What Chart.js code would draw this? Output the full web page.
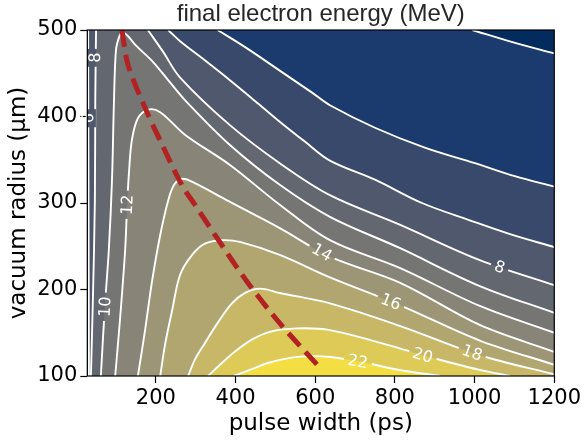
<!DOCTYPE html>
<html>
<head>
<meta charset="utf-8">
<script src="https://cdn.jsdelivr.net/npm/chart.js@4.4.0/dist/chart.umd.min.js"></script>
<style>
  html, body { margin: 0; padding: 0; background: #fff; }
</style>
</head>
<body>
<canvas id="myChart" width="584" height="440"></canvas>
<script>
// contour lines: [pulse width (ps), vacuum radius (µm)]
const lvl2 = [[994, 500], [1095, 486], [1200, 473]];
const lvl4 = [[355, 500], [428, 479], [511, 453], [594, 427], [637, 413], [750, 387], [875, 364], [1001, 346], [1101, 331], [1200, 319]];
const lvl6Left = [[32, 100], [31, 303], [30, 500]];
const lvl6Right = [[231, 500], [261, 487], [323, 465], [386, 442], [449, 418], [511, 394], [574, 371], [637, 349], [750, 327], [868, 300], [988, 280], [1089, 264], [1200, 249]];
const lvl8Left = [[37, 100], [42, 188], [47, 303], [48, 419], [50, 500]];
const lvl8Right = [[180, 500], [218, 475], [261, 445], [386, 390], [511, 346], [637, 309], [812, 275], [1013, 234], [1200, 205]];
const lvl10 = [[62, 100], [72, 180], [82, 246], [90, 327], [95, 419], [100, 477], [108, 492], [115, 497], [128, 494], [148, 483], [191, 464], [231, 442], [273, 419], [386, 367], [511, 321], [637, 284], [812, 248], [1013, 204], [1200, 173]];
const lvl12 = [[98, 100], [110, 165], [123, 246], [128, 298], [133, 338], [140, 373], [155, 398], [181, 408], [211, 405], [273, 379], [386, 344], [511, 298], [637, 257], [812, 225], [1013, 181], [1200, 150]];
const lvl14 = [[155, 100], [173, 153], [191, 211], [211, 263], [231, 303], [246, 321], [266, 328], [298, 323], [379, 303], [511, 271], [637, 238], [812, 208], [1013, 159], [1200, 128]];
const lvl16 = [[211, 100], [223, 136], [241, 176], [261, 217], [291, 240], [323, 253], [366, 257], [411, 255], [511, 240], [637, 214], [812, 182], [1013, 141], [1200, 113]];
const lvl18 = [[281, 100], [298, 119], [323, 138], [356, 162], [391, 184], [424, 196], [461, 201], [511, 196], [637, 184], [812, 158], [1013, 124], [1200, 102]];
const lvl20 = [[331, 100], [361, 113], [398, 128], [441, 142], [486, 151], [554, 155], [637, 153], [812, 132], [870, 124], [1013, 107], [1089, 100]];
const lvl22 = [[396, 100], [436, 107], [481, 115], [537, 121], [594, 123], [637, 122], [707, 117], [812, 107], [913, 100]];

// red dashed line (best pulse width for each radius)
const optimum = [[115, 500], [130, 460], [173, 410], [210, 373], [265, 321], [298, 298], [353, 260], [429, 209], [511, 161], [607, 112]];

const levels = [2, 4, 6, 8, 10, 12, 14, 16, 18, 20, 22];
const levelMax = 24;

// inline contour labels
const labelLevels = [6, 8, 10, 12, 14, 16, 18, 20, 22, 8];
const labelX = [30, 47, 72, 128, 617, 790, 994, 870, 707, 1063];
const labelY = [398, 468, 180, 298, 243, 186, 127, 124, 117, 226];

const xTicks = [200, 400, 600, 800, 1000, 1200];
const yTicks = [100, 200, 300, 400, 500];

// cividis-like colormap
const cmapT = [0, 0.042, 0.111, 0.222, 0.333, 0.444, 0.556, 0.667, 0.778, 0.889, 1];
const cmapRGB = [[0, 34, 78], [2, 43, 94], [22, 55, 110], [62, 76, 108], [90, 95, 110], [114, 115, 115], [139, 135, 120], [166, 157, 116], [196, 180, 105], [226, 205, 84], [254, 232, 56]];
function cmap(t) {
	t = Math.max(0, Math.min(1, t));
	var i = 0;
	while (i < cmapT.length - 2 && t > cmapT[i + 1]) i++;
	var f = (t - cmapT[i]) / (cmapT[i + 1] - cmapT[i]);
	var c = cmapRGB[i].map((v, k) => Math.round(v + (cmapRGB[i + 1][k] - v) * f));
	return 'rgb(' + c.join(',') + ')';
}
// band [L, L+2) coloured at its middle
function bandColor(lv) {
	return cmap((lv + 1) / levelMax);
}

function toXY(arr) {
	return arr.map(p => ({x: p[0], y: p[1]}));
}

function contour(arr, lv) {
	return {
		data: toXY(arr),
		level: lv,
		showLine: true,
		borderColor: '#ffffff',
		borderWidth: 1.9,
		pointRadius: 0,
		tension: 0.35,
		order: 1
	};
}

// position along the frame, clockwise from the top-left corner
function perim(p, a) {
	var W = a.right - a.left, H = a.bottom - a.top;
	var d = [Math.abs(p.y - a.top), Math.abs(p.x - a.right), Math.abs(p.y - a.bottom), Math.abs(p.x - a.left)];
	var e = d.indexOf(Math.min.apply(null, d));
	if (e === 0) return p.x - a.left;
	if (e === 1) return W + (p.y - a.top);
	if (e === 2) return W + H + (a.right - p.x);
	return 2 * W + H + (a.bottom - p.y);
}

function walk(ctx, a, from, to) {
	var W = a.right - a.left, H = a.bottom - a.top, P = 2 * (W + H);
	var s1 = perim(from, a), s2 = perim(to, a);
	var span = ((s2 - s1) % P + P) % P;
	var corners = [[0, a.left, a.top], [W, a.right, a.top], [W + H, a.right, a.bottom], [2 * W + H, a.left, a.bottom]];
	corners.map(c => [((c[0] - s1) % P + P) % P, c[1], c[2]])
		.filter(c => c[0] > 0 && c[0] < span)
		.sort((u, v) => u[0] - v[0])
		.forEach(c => ctx.lineTo(c[1], c[2]));
	ctx.lineTo(to.x, to.y);
}

function segDist(px, py, p, q) {
	var dx = q.x - p.x, dy = q.y - p.y;
	var t = ((px - p.x) * dx + (py - p.y) * dy) / (dx * dx + dy * dy || 1);
	t = Math.max(0, Math.min(1, t));
	return Math.hypot(p.x + t * dx - px, p.y + t * dy - py);
}

function labelGeom(chart, k) {
	var px = chart.scales.x.getPixelForValue(labelX[k]);
	var py = chart.scales.y.getPixelForValue(labelY[k]);
	var best = null;
	chart.data.datasets.forEach((d, i) => {
		if (d.level !== labelLevels[k]) return;
		var pts = chart.getDatasetMeta(i).data;
		for (var j = 0; j < pts.length - 1; j++) {
			var dist = segDist(px, py, pts[j], pts[j + 1]);
			if (!best || dist < best.dist) best = {dist: dist, dx: pts[j + 1].x - pts[j].x, dy: pts[j + 1].y - pts[j].y};
		}
	});
	var ang = Math.atan2(best.dy, best.dx);
	if (ang > Math.PI / 2) ang -= Math.PI;
	if (ang < -Math.PI / 2) ang += Math.PI;
	if (ang > 1.4) ang -= Math.PI;
	return {px: px, py: py, ang: ang};
}

const labelFont = '16px "DejaVu Sans"';

const contourPlugin = {
	id: 'contourBands',
	beforeDatasetsDraw(chart) {
		var ctx = chart.ctx, a = chart.chartArea;
		ctx.save();
		ctx.beginPath();
		ctx.rect(a.left, a.top, a.right - a.left, a.bottom - a.top);
		ctx.clip();
		ctx.fillStyle = bandColor(0);
		ctx.fillRect(a.left, a.top, a.right - a.left, a.bottom - a.top);
		// filled bands: region above each level, drawn from low to high
		levels.forEach(lv => {
			var first = null, prevEnd = null;
			ctx.beginPath();
			chart.data.datasets.forEach((d, i) => {
				if (d.level !== lv) return;
				var line = chart.getDatasetMeta(i).dataset;
				line.updateControlPoints(a, 'x');
				var pts = line.points;
				if (!first) {
					first = pts[0];
					ctx.moveTo(first.x, first.y);
				} else {
					walk(ctx, a, prevEnd, pts[0]);
				}
				line.pathSegment(ctx, line.segments[0], {move: false});
				prevEnd = pts[pts.length - 1];
			});
			walk(ctx, a, prevEnd, first);
			ctx.closePath();
			ctx.fillStyle = bandColor(lv);
			ctx.fill();
		});
		ctx.restore();

		// leave gaps in the lines where the labels go
		ctx.save();
		ctx.font = labelFont;
		ctx.beginPath();
		ctx.rect(a.left, a.top, a.right - a.left, a.bottom - a.top);
		labelLevels.forEach((lv, k) => {
			var g = labelGeom(chart, k);
			var w = ctx.measureText(String(lv)).width / 2 + 4, h = 8;
			var c = Math.cos(g.ang), s = Math.sin(g.ang);
			var box = [[-w, -h], [w, -h], [w, h], [-w, h]].map(p => [g.px + p[0] * c - p[1] * s, g.py + p[0] * s + p[1] * c]);
			ctx.moveTo(box[0][0], box[0][1]);
			box.slice(1).forEach(p => ctx.lineTo(p[0], p[1]));
			ctx.closePath();
		});
		ctx.clip('evenodd');
	},
	afterDatasetsDraw(chart) {
		var ctx = chart.ctx, a = chart.chartArea;
		ctx.restore();
		ctx.save();
		ctx.font = labelFont;
		ctx.fillStyle = '#ffffff';
		ctx.textAlign = 'center';
		ctx.textBaseline = 'middle';
		labelLevels.forEach((lv, k) => {
			var g = labelGeom(chart, k);
			ctx.save();
			ctx.translate(g.px, g.py);
			ctx.rotate(g.ang);
			ctx.fillText(String(lv), 0, 1);
			ctx.restore();
		});
		ctx.strokeStyle = '#000';
		ctx.lineWidth = 1.2;
		ctx.strokeRect(a.left, a.top, a.right - a.left, a.bottom - a.top);
		ctx.restore();
	},
	afterDraw(chart) {
		// title centred over the plot
		var ctx = chart.ctx, a = chart.chartArea;
		ctx.save();
		ctx.font = '24px "Liberation Sans"';
		ctx.fillStyle = '#262626';
		ctx.textAlign = 'center';
		ctx.textBaseline = 'alphabetic';
		ctx.fillText('final electron energy (MeV)', (a.left + a.right) / 2, 21);
		ctx.restore();
	}
};

var datasets = [{
	data: toXY(optimum),
	showLine: true,
	borderColor: '#b22222',
	borderWidth: 5,
	borderDash: [17, 8],
	pointRadius: 0,
	tension: 0.3,
	order: 0
}];
datasets.push(contour(lvl2, 2));
datasets.push(contour(lvl4, 4));
datasets.push(contour(lvl6Left, 6));
datasets.push(contour(lvl6Right, 6));
datasets.push(contour(lvl8Left, 8));
datasets.push(contour(lvl8Right, 8));
datasets.push(contour(lvl10, 10));
datasets.push(contour(lvl12, 12));
datasets.push(contour(lvl14, 14));
datasets.push(contour(lvl16, 16));
datasets.push(contour(lvl18, 18));
datasets.push(contour(lvl20, 20));
datasets.push(contour(lvl22, 22));

var tickFont = {family: 'DejaVu Sans', size: 21};
var titleFont = {family: 'DejaVu Sans', size: 23};

var ctx = document.getElementById('myChart').getContext('2d');
var myChart = new Chart(ctx, {
	type: 'scatter',
	data: {datasets: datasets},
	plugins: [contourPlugin],
	options: {
		responsive: false,
		animation: false,
		devicePixelRatio: 1,
		events: [],
		layout: {padding: {left: 0, right: 29.7, top: 30, bottom: 0}},
		plugins: {
			legend: {display: false},
			tooltip: {enabled: false},
			title: {display: false}
		},
		scales: {
			x: {
				type: 'linear',
				min: 28,
				max: 1200,
				afterBuildTicks: s => { s.ticks = xTicks.map(v => ({value: v})); },
				afterFit: s => { s.height = 64; },
				ticks: {font: tickFont, color: '#000', padding: 3, maxRotation: 0, callback: v => String(v)},
				grid: {drawOnChartArea: false, tickLength: 7, tickColor: '#000', tickWidth: 1.2},
				border: {display: false},
				title: {display: true, text: 'pulse width (ps)', color: '#000', font: titleFont, padding: {top: 0, bottom: 2.2}}
			},
			y: {
				type: 'linear',
				min: 100,
				max: 500,
				afterBuildTicks: s => { s.ticks = yTicks.map(v => ({value: v})); },
				afterFit: s => { s.width = 87.3; },
				ticks: {font: tickFont, color: '#000', padding: 3, callback: v => String(v)},
				grid: {drawOnChartArea: false, tickLength: 7, tickColor: '#000', tickWidth: 1.2},
				border: {display: false},
				title: {display: true, text: 'vacuum radius (µm)', color: '#000', font: titleFont, padding: {top: 5.2, bottom: 0}}
			}
		}
	}
});
</script>
</body>
</html>
